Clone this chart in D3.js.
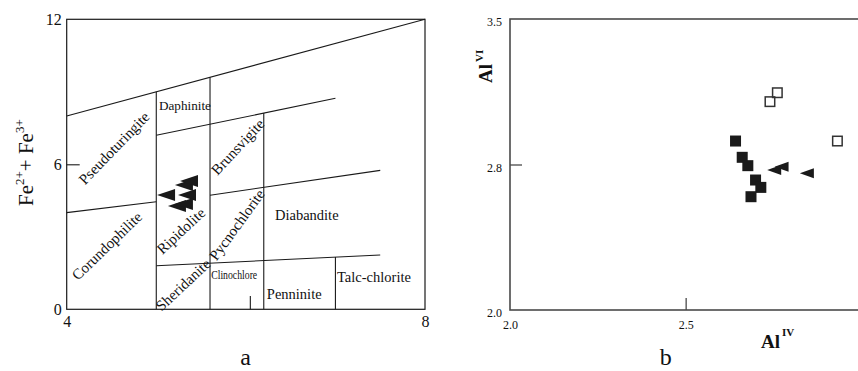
<!DOCTYPE html>
<html><head><meta charset="utf-8">
<script src="https://cdn.jsdelivr.net/npm/d3@7"></script>
<style>
html,body{margin:0;padding:0;background:#fff;overflow:hidden;}
text{font-family:"Liberation Serif","Times New Roman",serif;fill:#111;}
</style></head>
<body><svg id="c" width="858" height="371"></svg>
<script>
// ---------- Panel a data ----------
const aXDomain = [4, 8];
const aYDomain = [0, 12];
const aXTickLabels = [4, 8];
const aYTickLabels = [0, 6, 12];
const aYInnerTicks = [6];
// field boundaries [x1, y1, x2, y2] in data units
const aBoundaries = [
  [4, 8, 8, 12],
  [5, 9, 5, 0],
  [5.6, 9.6, 5.6, 0],
  [6.2, 8.12, 6.2, 0],
  [5, 7.2, 7, 8.73],
  [4, 4.0, 5, 4.45],
  [5.6, 4.72, 7.5, 5.75],
  [5, 1.8, 7.5, 2.25],
  [7, 2.16, 7, 0],
  [6.05, 0.55, 6.05, 0]
];
// field names [name, x, y, angle]
const aFieldNames = ["Pseudoturingite","Daphinite","Brunsvigite","Corundophilite","Ripidolite","Pycnochlorite","Diabandite","Sheridanite","Clinochlore","Penninite","Talc-chlorite"];
const aFieldX = [4.53, 5.32, 5.91, 4.45, 5.275, 5.90, 6.68, 5.30, 5.87, 6.54, 7.43];
const aFieldY = [6.67, 8.45, 6.72, 2.62, 3.24, 3.49, 3.90, 1.01, 1.46, 0.63, 1.34];
const aFieldAngle = [-46, 0, -47, -44, -43, -54, 0, -43, 0, 0, 0];
// samples (Si, Fe2+ + Fe3+)
const aSampleX = [5.309, 5.365, 5.109, 5.343, 5.231, 5.309];
const aSampleY = [5.14, 5.31, 4.73, 4.73, 4.27, 4.36];

// ---------- Panel b data ----------
const bXDomain = [2.0, 3.0];
const bYDomain = [2.0, 3.5];
const bXTickValues = [2.0, 2.5];
const bXTickLabels = ["2.0", "2.5"];
const bYTickValues = [2.0, 2.75, 3.5];
const bYTickLabels = ["2.0", "2.8", "3.5"];
const bOpenSqX = [2.761, 2.740, 2.932];
const bOpenSqY = [3.120, 3.074, 2.871];
const bFilledSqX = [2.642, 2.661, 2.677, 2.699, 2.714, 2.686];
const bFilledSqY = [2.871, 2.787, 2.744, 2.670, 2.632, 2.584];
const bTriX = [2.752, 2.773, 2.845];
const bTriY = [2.722, 2.739, 2.705];

const svg = d3.select("#c");
const ink = "#1a1a1a";

function triPath(cx, cy, w, h) {
  return `M${cx - w/2},${cy} L${cx + w/2},${cy - h/2} L${cx + w/2},${cy + h/2} Z`;
}

// ================= Panel a =================
{
  const x = d3.scaleLinear().domain(aXDomain).range([66.7, 425]);
  const y = d3.scaleLinear().domain(aYDomain).range([309.3, 19.3]);
  const g = svg.append("g");

  g.append("rect").attr("x", x(4)).attr("y", y(12))
    .attr("width", x(8) - x(4)).attr("height", y(0) - y(12))
    .attr("fill", "none").attr("stroke", ink).attr("stroke-width", 1.2);

  g.selectAll("line.b").data(aBoundaries).join("line")
    .attr("x1", d => x(d[0])).attr("y1", d => y(d[1]))
    .attr("x2", d => x(d[2])).attr("y2", d => y(d[3]))
    .attr("stroke", ink).attr("stroke-width", 1.1);

  const yAx = g.append("g").attr("transform", `translate(${x(4)},0)`)
    .call(d3.axisLeft(y).tickValues(aYTickLabels).tickSize(0).tickPadding(5).tickFormat(d3.format("d")));
  yAx.select(".domain").remove();
  yAx.selectAll("text").style("font-size", "16px");
  const yIn = g.append("g").attr("transform", `translate(${x(4)},0)`)
    .call(d3.axisRight(y).tickValues(aYInnerTicks).tickSize(13).tickFormat(""));
  yIn.select(".domain").remove();
  yIn.selectAll("line").attr("stroke", ink).attr("stroke-width", 1.1);

  const xAx = g.append("g").attr("transform", `translate(0,${y(0)})`)
    .call(d3.axisBottom(x).tickValues(aXTickLabels).tickSize(0).tickPadding(6).tickFormat(d3.format("d")));
  xAx.select(".domain").remove();
  xAx.selectAll("text").style("font-size", "16px");

  aFieldNames.forEach((n, i) => {
    const t = g.append("text")
      .attr("transform", `translate(${x(aFieldX[i])},${y(aFieldY[i])}) rotate(${aFieldAngle[i]})`)
      .attr("text-anchor", "middle").attr("dominant-baseline", "central")
      .style("font-size", aFieldAngle[i] === 0 ? "14.5px" : "15px")
      .text(n);
    if (n === "Daphinite") t.style("font-size", "13.5px").attr("textLength", 52).attr("lengthAdjust", "spacingAndGlyphs");
    if (n === "Clinochlore") t.style("font-size", "13px").attr("textLength", 46).attr("lengthAdjust", "spacingAndGlyphs");
  });

  g.selectAll("path.s").data(aSampleX).join("path")
    .attr("d", (d, i) => triPath(x(d), y(aSampleY[i]), 18, 12))
    .attr("fill", ink);

  const yt = g.append("text")
    .attr("transform", `translate(33,206) rotate(-90)`)
    .attr("text-anchor", "start").style("font-size", "21px");
  yt.append("tspan").text("Fe");
  yt.append("tspan").attr("dy", -9).style("font-size", "13px").text("2+");
  yt.append("tspan").attr("dy", 9).text("+ Fe");
  yt.append("tspan").attr("dy", -9).style("font-size", "13px").text("3+");

  g.append("text").attr("x", 245.7).attr("y", 365).attr("text-anchor", "middle")
    .style("font-size", "24px").text("a");
}

// ================= Panel b =================
{
  const x = d3.scaleLinear().domain(bXDomain).range([510, 861.3]);
  const y = d3.scaleLinear().domain(bYDomain).range([310, 19]);
  const g = svg.append("g");
  const axCol = "#4a4a4a";

  g.append("rect").attr("x", x(2)).attr("y", y(3.5))
    .attr("width", x(3) - x(2)).attr("height", y(2) - y(3.5))
    .attr("fill", "none").attr("stroke", axCol).attr("stroke-width", 1.6);

  const yAx = g.append("g").attr("transform", `translate(${x(2)},0)`)
    .call(d3.axisLeft(y).tickValues(bYTickValues).tickSize(0).tickPadding(8)
      .tickFormat((d, i) => bYTickLabels[i]));
  yAx.select(".domain").remove();
  yAx.selectAll("text").style("font-size", "12px").attr("dy", "0.55em");
  const yIn = g.append("g").attr("transform", `translate(${x(2)},0)`)
    .call(d3.axisRight(y).tickValues([2.75]).tickSize(12).tickFormat(""));
  yIn.select(".domain").remove();
  yIn.selectAll("line").attr("stroke", axCol).attr("stroke-width", 1.3);

  const xAx = g.append("g").attr("transform", `translate(0,${y(2)})`)
    .call(d3.axisBottom(x).tickValues(bXTickValues).tickSize(0).tickPadding(10)
      .tickFormat((d, i) => bXTickLabels[i]));
  xAx.select(".domain").remove();
  xAx.selectAll("text").style("font-size", "12px");
  const xIn = g.append("g").attr("transform", `translate(0,${y(2)})`)
    .call(d3.axisTop(x).tickValues([2.5]).tickSize(12).tickFormat(""));
  xIn.select(".domain").remove();
  xIn.selectAll("line").attr("stroke", axCol).attr("stroke-width", 1.3);

  const s = 11;
  g.selectAll("rect.f").data(bFilledSqX).join("rect")
    .attr("x", d => x(d) - s/2).attr("y", (d, i) => y(bFilledSqY[i]) - s/2)
    .attr("width", s).attr("height", s).attr("fill", ink);
  g.selectAll("rect.o").data(bOpenSqX).join("rect")
    .attr("x", d => x(d) - (s-1.5)/2).attr("y", (d, i) => y(bOpenSqY[i]) - (s-1.5)/2)
    .attr("width", s - 1.5).attr("height", s - 1.5)
    .attr("fill", "none").attr("stroke", "#333").attr("stroke-width", 1.5);
  g.selectAll("path.t").data(bTriX).join("path")
    .attr("d", (d, i) => triPath(x(d), y(bTriY[i]), 14, 10))
    .attr("fill", ink);

  const yt = g.append("text")
    .attr("transform", `translate(492,83) rotate(-90)`)
    .attr("text-anchor", "start").style("font-size", "19px").style("font-weight", "bold");
  yt.append("tspan").text("Al");
  yt.append("tspan").attr("dy", -9).attr("dx", 2).style("font-size", "11px").text("VI");

  const xt = g.append("text").attr("x", 761).attr("y", 348)
    .style("font-size", "19px").style("font-weight", "bold");
  xt.append("tspan").text("Al");
  xt.append("tspan").attr("dy", -12).attr("dx", 2).style("font-size", "11px").text("IV");

  g.append("text").attr("x", 665.7).attr("y", 365).attr("text-anchor", "middle")
    .style("font-size", "24px").text("b");
}
</script></body></html>
